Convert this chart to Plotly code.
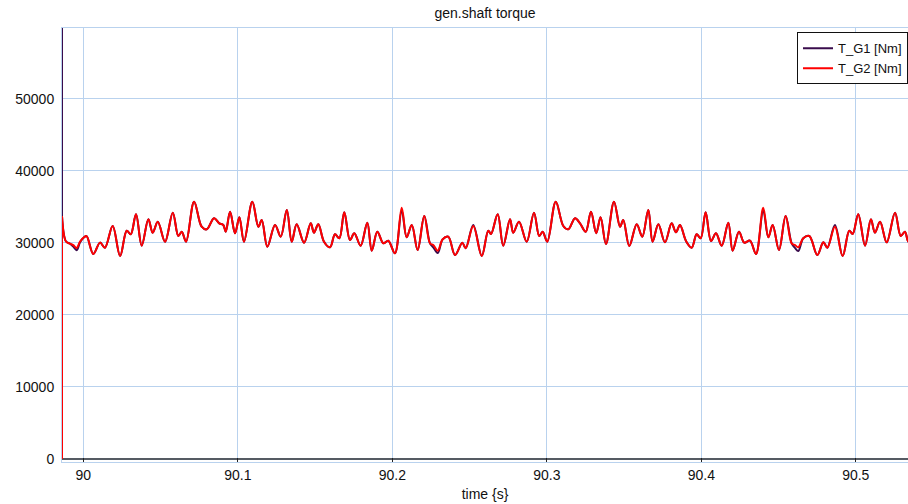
import plotly.graph_objects as go

# time [s]
time_s = [
    89.9862, 89.9862, 89.9862, 89.9888, 89.9914, 89.9935, 89.9957, 89.9979, 90.0005, 90.0021,
    90.0065, 90.0108, 90.0140, 90.0190, 90.0238, 90.0281, 90.0307, 90.0341, 90.0378,
    90.0421, 90.0449, 90.0482, 90.0529, 90.0579, 90.0615, 90.0637, 90.0665, 90.0717,
    90.0766, 90.0799, 90.0846, 90.0880, 90.0906, 90.0922, 90.0950, 90.0982, 90.1010,
    90.1040, 90.1094, 90.1133, 90.1155, 90.1191, 90.1241, 90.1278, 90.1317, 90.1349,
    90.1381, 90.1429, 90.1472, 90.1493, 90.1521, 90.1558, 90.1597, 90.1629, 90.1657,
    90.1689, 90.1726, 90.1754, 90.1795, 90.1838, 90.1867, 90.1903, 90.1942, 90.1974,
    90.2017, 90.2061, 90.2093, 90.2126, 90.2164, 90.2207, 90.2244, 90.2265, 90.2294,
    90.2326, 90.2362, 90.2406, 90.2453, 90.2475, 90.2524, 90.2579, 90.2621, 90.2639,
    90.2682, 90.2718, 90.2762, 90.2783, 90.2820, 90.2870, 90.2917, 90.2951, 90.2973,
    90.3003, 90.3058, 90.3107, 90.3139, 90.3183, 90.3215, 90.3252, 90.3286, 90.3320,
    90.3348, 90.3383, 90.3435, 90.3474, 90.3495, 90.3534, 90.3582, 90.3618, 90.3657,
    90.3685, 90.3722, 90.3765, 90.3808, 90.3836, 90.3862, 90.3901, 90.3938, 90.3970,
    90.3996, 90.4028, 90.4063, 90.4095, 90.4132, 90.4175, 90.4203, 90.4244, 90.4278,
    90.4315, 90.4354, 90.4401, 90.4434, 90.4462, 90.4503, 90.4546, 90.4585, 90.4607,
    90.4628, 90.4660, 90.4699, 90.4751, 90.4790, 90.4816, 90.4865, 90.4915, 90.4958,
    90.4980, 90.5016, 90.5060, 90.5098, 90.5124, 90.5157, 90.5200, 90.5254, 90.5291,
    90.5318, 90.5340, 90.5365,
]

# T_G2 [Nm]
t_g2 = [
    0, 33750, 33750, 30200, 29900, 29700, 29300, 30200, 30800, 30950,
    28470, 30050, 29350, 32360, 28190, 31710, 31200, 33990, 29630,
    33290, 31430, 32960, 30180, 34210, 30970, 31570, 30180, 35740,
    32260, 31900, 33430, 32730, 32500, 31570, 34350, 31350, 33570,
    30180, 35740, 32260, 33190, 29490, 32500, 30880, 34580, 30180,
    32600, 30040, 32730, 31430, 32600, 30180, 29400, 31200, 30650,
    34260, 30420, 31350, 29630, 32820, 28930, 31570, 29950, 30320,
    28570, 34900, 30790, 32500, 29030, 33750, 29950, 29720, 28930,
    30510, 30880, 28330, 30040, 29260, 32360, 28190, 31710, 31250,
    33990, 29630, 33290, 31430, 32960, 30180, 34210, 30970, 31570,
    30180, 35740, 32360, 31900, 33430, 32730, 31570, 34350, 31350,
    33570, 29860, 35740, 32260, 33190, 29580, 32600, 30880, 34580,
    30180, 32600, 30090, 32730, 31480, 32500, 30280, 29350, 31200,
    30650, 34260, 30280, 31350, 29630, 32820, 28930, 31570, 30040,
    30320, 28470, 34900, 30790, 32500, 29030, 33750, 29950, 29700,
    29400, 30650, 30970, 28330, 30090, 29350, 32260, 28190, 31710,
    31250, 33990, 29630, 33290, 31430, 32960, 30090, 34210, 30970,
    31570, 30180, 31200,
]

# T_G1 [Nm]
t_g1 = [
    66000, 33750, 33750, 30200, 29900, 29500, 29000, 30100, 30800, 30950,
    28470, 30050, 29350, 32360, 28190, 31710, 31200, 33990, 29630,
    33290, 31430, 32960, 30180, 34210, 30970, 31570, 30180, 35740,
    32260, 31900, 33430, 32730, 32500, 31570, 34350, 31350, 33570,
    30180, 35740, 32260, 33190, 29490, 32500, 30880, 34580, 30180,
    32600, 30040, 32730, 31430, 32600, 30180, 29400, 31200, 30650,
    34260, 30420, 31350, 29630, 32820, 28930, 31570, 29950, 30320,
    28570, 34500, 30790, 32500, 29030, 33750, 29950, 29400, 28600,
    30510, 30880, 28330, 30040, 29260, 32500, 28190, 31710, 31250,
    33990, 29630, 33290, 31430, 32960, 30180, 34210, 30970, 31570,
    30180, 35740, 32360, 31900, 33430, 32730, 31570, 34350, 31350,
    33570, 29860, 35740, 32260, 33190, 29580, 32600, 30880, 34580,
    30180, 32600, 30090, 32730, 31480, 32500, 30280, 29350, 31200,
    30650, 34260, 30280, 31350, 29630, 32820, 28930, 31570, 30040,
    30320, 28470, 34500, 30790, 32500, 29030, 33750, 29950, 29300,
    28890, 30650, 30970, 28330, 30090, 29350, 32500, 28190, 31710,
    31250, 33990, 29630, 33290, 31430, 32960, 30090, 34210, 30970,
    31570, 30180, 31200,
]

x_ticks = [90, 90.1, 90.2, 90.3, 90.4, 90.5]
x_tick_labels = ["90", "90.1", "90.2", "90.3", "90.4", "90.5"]
y_ticks = [0, 10000, 20000, 30000, 40000, 50000]
y_tick_labels = ["0", "10000", "20000", "30000", "40000", "50000"]

FONT = "Arial, Liberation Sans, sans-serif"
GRID = "#b9d2ee"

fig = go.Figure()
fig.add_trace(go.Scatter(x=time_s, y=t_g1, mode="lines", name="T_G1 [Nm]",
                         line=dict(color="#3a0c4c", width=2, shape="spline", smoothing=1.0)))
fig.add_trace(go.Scatter(x=time_s, y=t_g2, mode="lines", name="T_G2 [Nm]",
                         line=dict(color="#ff0000", width=2, shape="spline", smoothing=1.0)))

fig.update_layout(
    width=908, height=504,
    margin=dict(l=62, r=0, t=28, b=42),
    paper_bgcolor="white", plot_bgcolor="white",
    font=dict(family=FONT, size=14, color="#111111"),
    title=dict(text="gen.shaft torque", x=0.5, xref="paper", y=1 - 13 / 504,
               yanchor="middle", yref="container", font=dict(size=14, family=FONT)),
    legend=dict(x=1, xanchor="right", y=0.99, yanchor="top", bgcolor="white",
                bordercolor="#111111", borderwidth=1, font=dict(size=13, family=FONT),
                itemwidth=30, tracegroupgap=0),
    showlegend=True,
)
fig.update_xaxes(
    range=[89.9862, 90.5338], tickvals=x_ticks, ticktext=x_tick_labels,
    showgrid=True, gridcolor=GRID, gridwidth=1,
    showline=True, linecolor=GRID, linewidth=1, mirror=True,
    ticks="inside", ticklen=4, tickcolor="#222222", tickwidth=1,
    zeroline=False,
    title=dict(text="time {s}", font=dict(size=14, family=FONT), standoff=7),
)
fig.update_yaxes(
    range=[-420, 59860], tickvals=y_ticks, ticktext=y_tick_labels,
    showgrid=True, gridcolor=GRID, gridwidth=1,
    showline=True, linecolor=GRID, linewidth=1, mirror=True,
    zeroline=True, zerolinecolor="#555b63", zerolinewidth=2,
    ticks="", ticklabelstandoff=4,
)

fig.write_html("out.html", config={"displayModeBar": False},
               post_script="document.body.style.margin='0';")
